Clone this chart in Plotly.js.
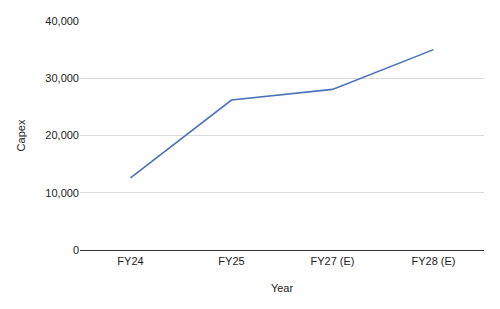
<!DOCTYPE html>
<html>
<head>
<meta charset="utf-8">
<script src="https://cdn.plot.ly/plotly-3.0.1.min.js"></script>
<style>html,body{margin:0;padding:0;background:#fff;}#chart{width:500px;height:309px;}</style>
</head>
<body>
<div id="chart"></div>
<script>
const years = ["FY24", "FY25", "FY27 (E)", "FY28 (E)"];
const capex = [12600, 26200, 28050, 35000];
const yTicks = [0, 10000, 20000, 30000, 40000];
const yTickLabels = ["0", "10,000", "20,000", "30,000", "40,000"];

Plotly.newPlot("chart", [{
  x: years,
  y: capex,
  type: "scatter",
  mode: "lines",
  line: {color: "#4a72b8", width: 1.6},
  hoverinfo: "none"
}], {
  width: 500,
  height: 309,
  margin: {l: 80, r: 16, t: 21, b: 59},
  paper_bgcolor: "#fff",
  plot_bgcolor: "#fff",
  showlegend: false,
  font: {family: "Liberation Sans, Arial, sans-serif", size: 11, color: "#222"},
  xaxis: {
    type: "category",
    range: [-0.5, 3.5],
    showgrid: false,
    zeroline: false,
    showline: false,
    ticks: "",
    ticklabelstandoff: 3,
    tickfont: {size: 11, color: "#222"},
    title: {text: "Year", font: {size: 11, color: "#222"}, standoff: 18}
  },
  yaxis: {
    range: [0, 40000],
    tickvals: yTicks,
    ticktext: yTickLabels,
    showgrid: true,
    gridcolor: "#dcdcdc",
    gridwidth: 1,
    zeroline: true,
    zerolinecolor: "#333",
    zerolinewidth: 1,
    showline: false,
    ticks: "",
    ticklen: 0,
    tickfont: {size: 11, color: "#222"},
    title: {text: "Capex", font: {size: 11, color: "#222"}, standoff: 17}
  }
}, {staticPlot: true, displayModeBar: false});
</script>
</body>
</html>
